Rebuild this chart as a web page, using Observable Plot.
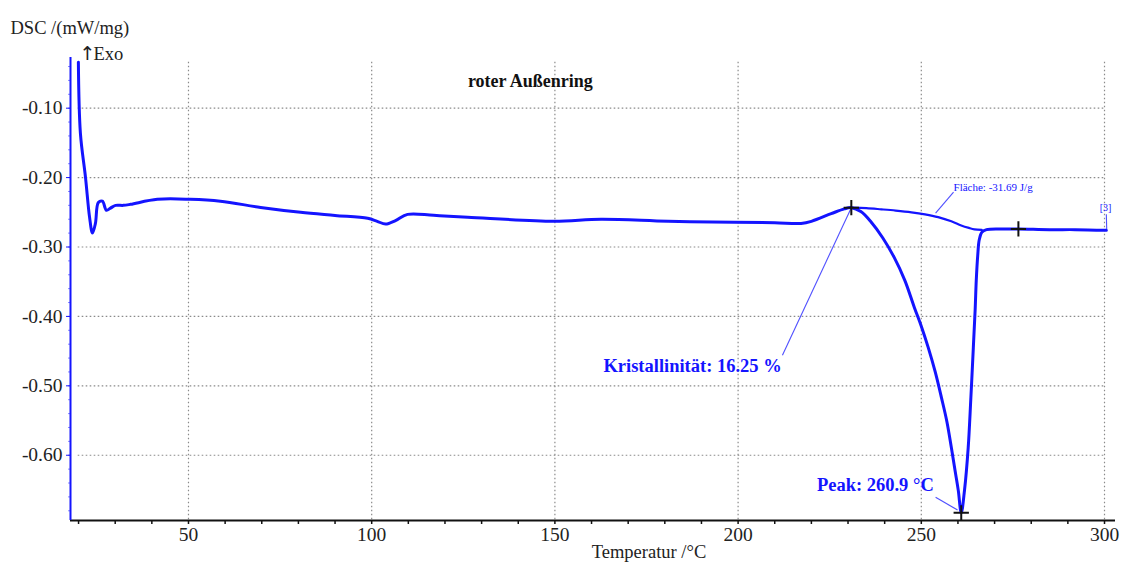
<!DOCTYPE html>
<html>
<head>
<meta charset="utf-8">
<script src="https://cdn.jsdelivr.net/npm/d3@7"></script>
<script src="https://cdn.jsdelivr.net/npm/@observablehq/plot@0.6"></script>
<style>
  html, body { margin: 0; padding: 0; background: #fff; }
  #chart svg { display: block; }
</style>
</head>
<body>
<div id="chart"></div>
<script>
// Measured DSC curve (Temperatur °C, DSC mW/mg)
const temperature = [19.95, 20.5, 21.9, 23.0, 23.8, 24.6, 25.4, 26.5, 27.6, 28.7, 30.1, 32.2, 34.2, 41.5, 50.5, 58.7, 69.7, 80.6, 90, 98.9, 101.5, 103.8, 106.5, 109.8, 116.9, 126.2, 149.7, 162.6, 180.9, 198.9, 210, 217.2, 220, 225.4, 229, 230.9, 233.5, 236.3, 239.5, 242.6, 245.5, 248.1, 250, 251.9, 253.8, 255.5, 257, 258.2, 259.3, 260.1, 260.9, 261.8, 262.8, 263.5, 264.2, 264.7, 265.0, 265.4, 265.8, 266.5, 267.8, 272, 276.5, 285, 292, 300.5];
const dsc = [-0.034, -0.136, -0.200, -0.257, -0.280, -0.266, -0.236, -0.234, -0.247, -0.244, -0.240, -0.240, -0.2385, -0.2313, -0.2313, -0.234, -0.243, -0.250, -0.2545, -0.2587, -0.263, -0.267, -0.262, -0.253, -0.2544, -0.257, -0.263, -0.260, -0.263, -0.2645, -0.265, -0.266, -0.263, -0.252, -0.245, -0.2433, -0.249, -0.264, -0.287, -0.315, -0.348, -0.387, -0.414, -0.445, -0.480, -0.517, -0.552, -0.589, -0.625, -0.651, -0.683, -0.650, -0.589, -0.520, -0.445, -0.390, -0.348, -0.312, -0.290, -0.279, -0.275, -0.274, -0.274, -0.275, -0.275, -0.276];

// Integration baseline (sigmoid) under the melting peak
const baseTemperature = [230.9, 235, 239.1, 243, 247.3, 251, 254.6, 258.2, 260.9, 263, 264.5, 266.5];
const baseDsc = [-0.2433, -0.2440, -0.2457, -0.2475, -0.250, -0.253, -0.257, -0.263, -0.269, -0.2725, -0.2745, -0.2752];

// Evaluation markers (+)
const markerTemperature = [230.9, 276.5, 260.9];
const markerDsc = [-0.2433, -0.274, -0.683];

// Tick values
const xMajorTicks = [50, 100, 150, 200, 250, 300];
const xMinorTicks = d3.range(20, 301, 10);
const yTicks = [-0.10, -0.20, -0.30, -0.40, -0.50, -0.60];

// Annotations (text, anchor point, leader line start/end)
const annotations = [
  {text: "Kristallinität: 16.25 %", x: 211.9, y: -0.4718, kind: "bold",
   lx1: 212.1, ly1: -0.456, lx2: 230.9, ly2: -0.2433},
  {text: "Peak: 260.9 °C", x: 253.4, y: -0.643, kind: "bold",
   lx1: 253.9, ly1: -0.6605, lx2: 259.9, ly2: -0.679},
  {text: "Fläche: -31.69 J/g", x: 258.8, y: -0.2145, kind: "small",
   lx1: 253.9, ly1: -0.2513, lx2: 258.8, ly2: -0.221},
  {text: "[3]", x: 300.3, y: -0.244, kind: "tag",
   lx1: 300.5, ly1: -0.2527, lx2: 300.6, ly2: -0.274}
];

const curve = temperature.map((t, i) => ({t, v: dsc[i]}));
const base = baseTemperature.map((t, i) => ({t, v: baseDsc[i]}));
const markers = markerTemperature.map((t, i) => ({t, v: markerDsc[i]}));

const xDomain = [17.8, 303];
const yDomain = [-0.694, -0.027];
const blue = "#1414ff";
const serif = "'Liberation Serif', 'DejaVu Serif', serif";

const chart = Plot.plot({
  width: 1127,
  height: 567,
  marginLeft: 70,
  marginRight: 12,
  marginTop: 57,
  marginBottom: 47,
  style: {fontFamily: serif, background: "#fff", overflow: "visible"},
  x: {type: "linear", domain: xDomain, axis: null},
  y: {type: "linear", domain: yDomain, axis: null},
  marks: [
    // dotted grid
    Plot.ruleX(xMajorTicks, {y1: -0.0337, y2: yDomain[0], stroke: "#8a8a8a", strokeDasharray: "1.6,2.4", strokeWidth: 1.2}),
    Plot.ruleY(yTicks, {x1: 19.9, x2: 300.2, stroke: "#8a8a8a", strokeDasharray: "1.6,2.4", strokeWidth: 1.2}),
    // x axis line, ticks, labels
    Plot.ruleY([yDomain[0]], {stroke: "#111", strokeWidth: 2}),
    Plot.axisX({ticks: xMinorTicks, tickFormat: () => "", tickSize: 4, stroke: "#111", strokeWidth: 1.5}),
    Plot.axisX({ticks: xMajorTicks, tickFormat: d => String(d), tickSize: 0, tickPadding: 7, fontSize: 19.5, fill: "#222"}),
    // y axis (blue line) with ticks & labels
    Plot.ruleX([xDomain[0]], {stroke: blue, strokeWidth: 2}),
    Plot.axisY({ticks: d3.range(-0.68, -0.03, 0.02), tickFormat: () => "", tickSize: 2, stroke: blue, strokeOpacity: 0.5}),
    Plot.axisY({ticks: yTicks, tickFormat: d => d.toFixed(2), tickSize: 4, tickPadding: 4, stroke: blue, fontSize: 19.5, fill: "#222"}),
    // integration baseline
    Plot.line(base, {x: "t", y: "v", stroke: blue, strokeWidth: 2.2, curve: "catmull-rom"}),
    // DSC curve
    Plot.line(curve, {x: "t", y: "v", stroke: blue, strokeWidth: 3, curve: "catmull-rom"}),
    // leader lines
    Plot.link(annotations, {x1: "lx1", y1: "ly1", x2: "lx2", y2: "ly2", stroke: blue, strokeWidth: 1.1, strokeOpacity: 0.75}),
    // markers
    Plot.dot(markers, {x: "t", y: "v", symbol: "plus", r: 5, stroke: "#111", strokeWidth: 2}),
    // annotation texts
    Plot.text(annotations.filter(d => d.kind === "bold"), {x: "x", y: "y", text: "text", textAnchor: "end", fill: blue, fontSize: 18.5, fontWeight: "bold"}),
    Plot.text(annotations.filter(d => d.kind === "small"), {x: "x", y: "y", text: "text", textAnchor: "start", fill: blue, fontSize: 11}),
    Plot.text(annotations.filter(d => d.kind === "tag"), {x: "x", y: "y", text: "text", textAnchor: "middle", fill: blue, fontSize: 10}),
    // title inside plot
    Plot.text(["roter Außenring"], {x: () => 143.3, y: () => -0.061, text: d => d, fontSize: 18, fontWeight: "bold", fill: "#111"}),
    // axis labels
    Plot.text(["DSC /(mW/mg)"], {frameAnchor: "top-left", dx: -60, dy: -37, text: d => d, textAnchor: "start", fontSize: 18.5, fill: "#222"}),
    Plot.text(["↑"], {frameAnchor: "top-left", dx: 9, dy: -11, text: d => d, textAnchor: "start", fontSize: 19, fill: "#222", fontFamily: "DejaVu Sans"}),
    Plot.text(["Exo"], {frameAnchor: "top-left", dx: 23, dy: -11, text: d => d, textAnchor: "start", fontSize: 18.5, fill: "#222"}),
    Plot.text(["Temperatur /°C"], {frameAnchor: "bottom", dx: 56, dy: 37, text: d => d, fontSize: 18.5, fill: "#222"})
  ]
});
document.getElementById("chart").appendChild(chart);
</script>
</body>
</html>
